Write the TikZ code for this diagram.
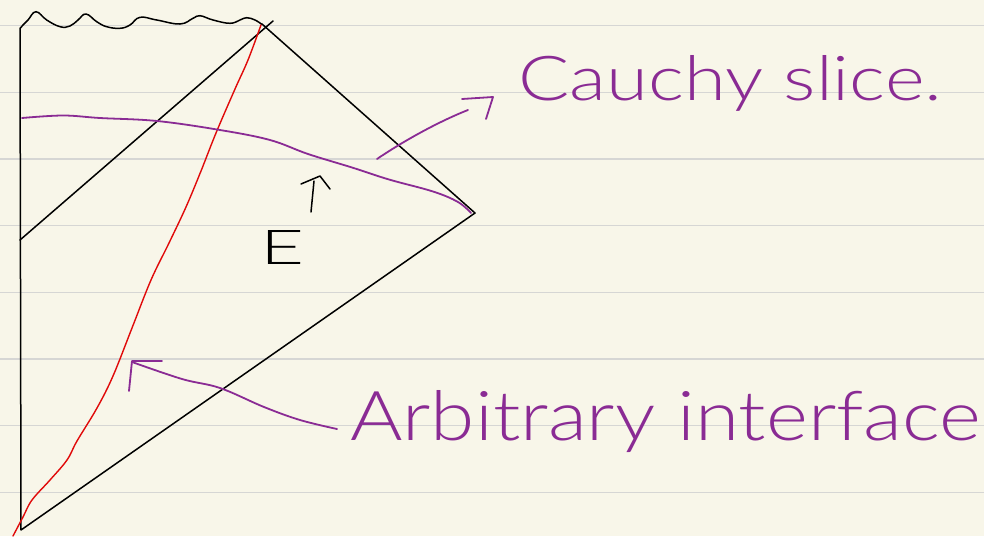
\documentclass[tikz,border=0pt]{standalone}
\usepackage{fontspec}
\setmainfont{Lato Light}
\usepackage{graphicx}
\definecolor{paper}{HTML}{F8F6E9}
\definecolor{rule}{HTML}{D6D6D4}
\definecolor{ink}{HTML}{8A2B94}
\definecolor{redink}{HTML}{E00A0A}
\tikzset{
  ruleline/.style={rule, line width=1.3pt},
  blackline/.style={black, line width=1.5pt, line cap=round, line join=round},
  redline/.style={redink, line width=1.4pt, line cap=round},
  purpleline/.style={ink, line width=1.8pt, line cap=round, line join=round},
  label/.style={ink, inner sep=0pt, anchor=base west},
}
\begin{document}
\begin{tikzpicture}[x=1pt,y=-1pt]
\fill[paper] (0,0) rectangle (984,536);
\useasboundingbox (0,0) rectangle (984,536);
% ruled lines
\foreach \k in {0,...,7} {
  \draw[ruleline] (0,{25.6+66.7*\k}) -- (984,{25.6+66.7*\k});
}
% key points
\coordinate (top) at (262,24);
\coordinate (right) at (475,213);
\coordinate (bottom) at (21,530);
\coordinate (lefttop) at (20,28);
\coordinate (leftmid) at (20,240);
\coordinate (tick) at (273,21);
% boundary
\draw[blackline] (lefttop) -- (bottom) -- (right) -- (top);
\draw[blackline] (leftmid) -- (tick);
% singularity
\draw[blackline] plot[smooth, tension=0.7] coordinates {
 (20.5,28) (23,25) (28,20) (36,11.7) (46.7,20) (60,26.7) (70,26) (78,20) (86,14)
 (96.7,21.7) (106.7,26.7) (120,28.3) (130,25) (140,17.3) (156.7,20) (180,24)
 (193,18.3) (200,15.7) (213,20) (230,23.3) (240,20) (246.7,17.7) (255,20) (261.7,24.3)};
% red interface
\draw[redline] plot[smooth, tension=0.6] coordinates {
 (13,536) (23,517) (32,500) (50,480) (67,460) (77,441) (97,408) (113,376)
 (132,328) (151,280) (169,243) (186,207) (201,171) (216,133) (235,89) (248,60) (261,25)};
% Cauchy slice
\draw[purpleline] plot[smooth, tension=0.6] coordinates {
 (22,118) (63,115.5) (100,118) (157,121) (220,130) (270,140) (308,154)
 (352,167.5) (389,179.5) (433,191.5) (458,202) (471,213)};
% labels
\node[label] (cauchy) at (518,100) {\resizebox{424pt}{45pt}{Cauchy slice.}};
\node[label] (arb) at (350,440) {\resizebox{630pt}{50pt}{Arbitrary interface}};
% Cauchy arrow
\coordinate (ca0) at (377,159);
\coordinate (ca1) at (468,110);
\draw[purpleline] (ca0) .. controls (405,140) and (440,121) .. (ca1);
\draw[purpleline] (462,99) -- (493,97) -- (486,119);
% Interface arrow
\coordinate (ia0) at (337,429);
\coordinate (ia1) at (132,362);
\draw[purpleline] plot[smooth, tension=0.6] coordinates {
 (ia0) (300,420) (264,407) (220,388) (182,379) (ia1)};
\draw[purpleline] (162,361) -- (132,361) -- (129,391);
% E with time arrow
\node[inner sep=0pt, black] (E) at (283,247) {\resizebox{44pt}{34pt}{E}};
\coordinate (t0) at (311,212);
\coordinate (t1) at (314,181);
\draw[blackline] (t0) -- (t1);
\draw[blackline] (301,184) -- (320,176) -- (330,189);
\end{tikzpicture}
\end{document}
